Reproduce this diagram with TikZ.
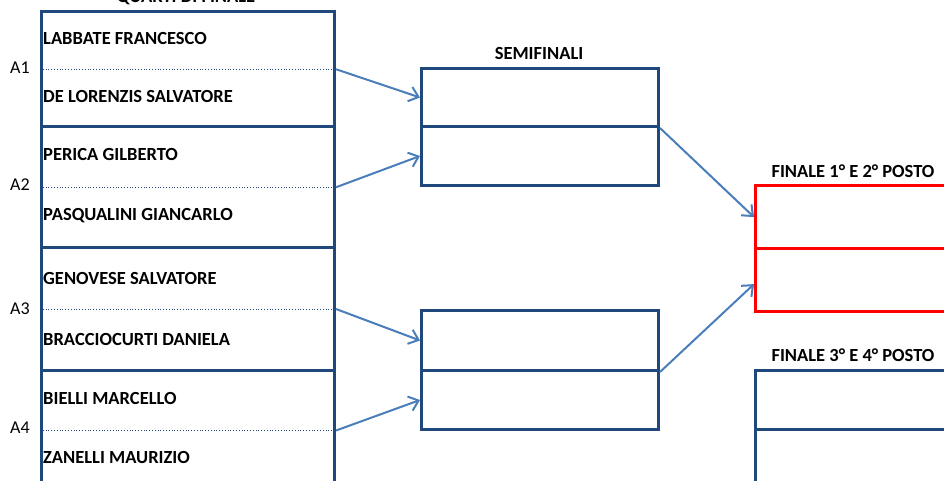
\documentclass[tikz,border=0pt]{standalone}
\usepackage{fontspec}
\setmainfont{Carlito}
\usetikzlibrary{arrows.meta}
\definecolor{boxblue}{RGB}{31,73,125}
\definecolor{arrblue}{RGB}{74,126,187}
\begin{document}
\begin{tikzpicture}[x=1pt,y=-1pt,
  cell/.style={draw=boxblue,line width=3pt,minimum width=#1,inner sep=0pt,anchor=north west},
  redcell/.style={draw=red,line width=3.2pt,inner sep=0pt,anchor=north west},
  pname/.style={anchor=west,inner sep=0pt,font=\fontsize{18.5}{20}\selectfont\bfseries},
  ttl/.style={inner sep=0pt,font=\fontsize{18.5}{20}\selectfont\bfseries},
  lab/.style={inner sep=0pt,font=\fontsize{18}{20}\selectfont},
  dotline/.style={boxblue,line width=0.8pt,dotted},
  conn/.style={arrblue,line width=2pt,-{Straight Barb[length=9pt,width=15pt,line width=2pt]}}]
\useasboundingbox (0,0) rectangle (944,481);
\clip (0,0) rectangle (944,481);
% quarter-final blocks
\node[cell=293pt,minimum height=115.5pt] (q1) at (40,10) {};
\node[cell=293pt,minimum height=120.5pt] (q2) at (40,125.5) {};
\node[cell=293pt,minimum height=123pt] (q3) at (40,246) {};
\node[cell=293pt,minimum height=120pt] (q4) at (40,369) {};
\foreach \q in {q1,q2,q3,q4}{\draw[dotline] (\q.west) -- (\q.east);}
% titles
\node[ttl] (tq) at (186,-2.5) {QUARTI DI FINALE};
\node[ttl] (ts) at (539,53) {SEMIFINALI};
\node[ttl] (tf1) at (853,171) {FINALE 1° E 2° POSTO};
\node[ttl] (tf2) at (853,355) {FINALE 3° E 4° POSTO};
% labels
\node[lab] (l1) at (20,68) {A1};
\node[lab] (l2) at (20,185) {A2};
\node[lab] (l3) at (20,309) {A3};
\node[lab] (l4) at (20,428) {A4};
% names
\node[pname] (n1) at (43,38) {LABBATE FRANCESCO};
\node[pname] (n2) at (43,96) {DE LORENZIS SALVATORE};
\node[pname] (n3) at (43,154) {PERICA GILBERTO};
\node[pname] (n4) at (43,216) {PASQUALINI GIANCARLO};
\node[pname] (n5) at (43,278) {GENOVESE SALVATORE};
\node[pname] (n6) at (43,339) {BRACCIOCURTI DANIELA};
\node[pname] (n7) at (43,398) {BIELLI MARCELLO};
\node[pname] (n8) at (43,457.5) {ZANELLI MAURIZIO};
% semifinal cells
\node[cell=237pt,minimum height=58pt] (s1) at (420,67) {};
\node[cell=237pt,minimum height=59pt] (s2) at (420,125) {};
\node[cell=237pt,minimum height=60pt] (s3) at (420,309) {};
\node[cell=237pt,minimum height=59pt] (s4) at (420,369) {};
% finals
\node[redcell,minimum width=210pt,minimum height=63pt] (f1) at (754,184) {};
\node[redcell,minimum width=210pt,minimum height=63pt] (f2) at (754,247) {};
\node[cell=210pt,minimum height=59pt] (f3) at (754,369) {};
\node[cell=210pt,minimum height=62pt] (f4) at (754,428) {};
% connectors
\draw[conn] (q1.east) -- (s1.west);
\draw[conn] (q2.east) -- (s2.west);
\draw[conn] (q3.east) -- (s3.west);
\draw[conn] (q4.east) -- (s4.west);
\draw[conn] (s1.south east) -- (f1.west);
\draw[conn] (s3.south east) -- ([yshift=-4pt]f2.west);
\end{tikzpicture}
\end{document}
